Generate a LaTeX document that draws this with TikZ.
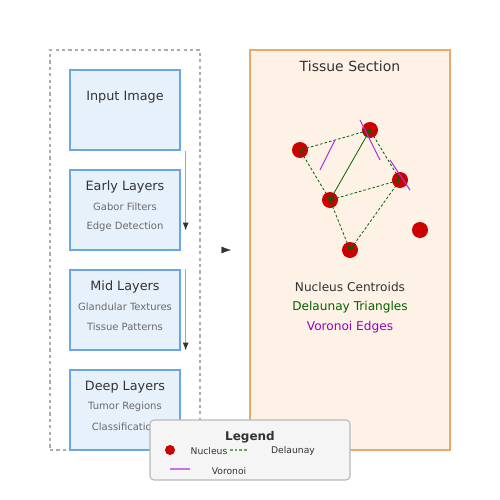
\documentclass[tikz,border=0pt]{standalone}
\usepackage{fontspec}
\setmainfont{DejaVu Sans}
\usepackage{xcolor}
\usetikzlibrary{positioning, arrows.meta, shapes}

\definecolor{layerfill}{HTML}{E6F1FC}
\definecolor{layerdraw}{HTML}{6AA6E4}
\definecolor{tissuefill}{HTML}{FEF1E5}
\definecolor{tissuedraw}{HTML}{E9A86C}
\definecolor{nucred}{HTML}{CC0000}
\definecolor{delgreen}{HTML}{006400}
\definecolor{vorpurple}{HTML}{9900CC}
\definecolor{textdark}{HTML}{333333}
\definecolor{textgray}{HTML}{6A6A6A}

\begin{document}
\begin{tikzpicture}[x=0.75pt, y=-0.75pt,
        layerbox/.style={draw=layerdraw, fill=layerfill, line width=1pt, minimum width=82.5pt, minimum height=60pt, inner sep=0pt},
        titletext/.style={text=textdark, font=\fontsize{9.6}{11}\selectfont, inner sep=0pt},
        subtext/.style={text=textgray, font=\fontsize{7.5}{9}\selectfont, inner sep=0pt},
        legtext/.style={text=textdark, font=\fontsize{6.9}{8}\selectfont, inner sep=0pt},
        flow/.style={draw=gray!70, line width=0.9pt, -{Latex[length=6pt, width=4.5pt, color=textdark]}},
        nucleus/.style={circle, fill=nucred, minimum size=12pt, inner sep=0pt},
        delaunay/.style={delgreen, line width=0.6pt, dash pattern=on 2pt off 1.5pt, {Stealth[length=2.5pt, width=2.5pt]}-{Stealth[length=2.5pt, width=2.5pt]}},
        voronoi/.style={vorpurple!80, line width=0.8pt}]
    \useasboundingbox (0,0) rectangle (500,500);

    % --- Network column ---
    \node[draw=gray!65, line width=0.9pt, dash pattern=on 2.4pt off 2.4pt, minimum width=112.5pt, minimum height=300pt, inner sep=0pt] (pipeline) at (125,250) {};

    \node[layerbox] (input) at (125,110) {};
    \node[titletext] (inputT) at (125,97) {Input Image};

    \node[layerbox] (early) at (125,210) {};
    \node[titletext] (earlyT) at (125,187) {Early Layers};
    \node[subtext] (earlyA) at (125,207) {Gabor Filters};
    \node[subtext] (earlyB) at (125,227) {Edge Detection};

    \node[layerbox] (mid) at (125,310) {};
    \node[titletext] (midT) at (125,287) {Mid Layers};
    \node[subtext] (midA) at (125,307) {Glandular Textures};
    \node[subtext] (midB) at (125,327) {Tissue Patterns};

    \node[layerbox] (deep) at (125,410) {};
    \node[titletext] (deepT) at (125,387) {Deep Layers};
    \node[subtext] (deepA) at (125,407) {Tumor Regions};
    \node[subtext] (deepB) at (125,427) {Classification};

    % Flow arrows
    \draw[flow] ([xshift=3.75pt]input.south east) -- ([xshift=3.75pt, yshift=15pt]early.south east);
    \draw[flow] ([xshift=3.75pt]mid.north east) -- ([xshift=3.75pt]mid.south east);
    \coordinate (gap) at (231,250);
    \draw[textdark, line width=0.1pt, -{Latex[length=7pt, width=5pt]}] (224,250) -- (gap);

    % --- Tissue section ---
    \node[draw=tissuedraw, fill=tissuefill, line width=1pt, minimum width=150pt, minimum height=300pt, inner sep=0pt] (tissue) at (350,250) {};
    \node[titletext, font=\fontsize{10.5}{12}\selectfont] (tissueT) at (350,66) {Tissue Section};

    \node[nucleus] (n1) at (300,150) {};
    \node[nucleus] (n2) at (370,130) {};
    \node[nucleus] (n3) at (400,180) {};
    \node[nucleus] (n4) at (330,200) {};
    \node[nucleus] (n5) at (350,250) {};
    \node[nucleus] (n6) at (420,230) {};

    % Delaunay edges
    \foreach \a/\b in {n1/n2, n1/n4, n2/n3, n4/n3, n4/n5, n5/n3}
        \draw[delaunay] (\a.center) -- (\b.center);
    \draw[delaunay, solid] (n4.center) -- (n2.center);

    % Voronoi edges
    \draw[voronoi] (335,140) -- (320,170);
    \draw[voronoi] (360,120) -- (380,160);
    \draw[voronoi] (390,160) -- (410,190);

    \node[titletext, font=\fontsize{9.1}{10}\selectfont] (capA) at (350,287) {Nucleus Centroids};
    \node[titletext, font=\fontsize{9.1}{10}\selectfont, text=delgreen] (capB) at (350,307) {Delaunay Triangles};
    \node[titletext, font=\fontsize{9.1}{10}\selectfont, text=vorpurple] (capC) at (350,327) {Voronoi Edges};

    % --- Legend ---
    \node[draw=gray!55, fill=gray!8, rounded corners=3pt, line width=0.8pt, minimum width=150pt, minimum height=45pt, inner sep=0pt] (legend) at (250,450) {};
    \node[titletext, font=\bfseries\fontsize{9}{10}\selectfont] (legT) at (250,437) {Legend};
    \node[circle, fill=nucred, minimum size=7.5pt, inner sep=0pt] (legN) at (170,450) {};
    \node[legtext] (legNT) at (209,451) {Nucleus};
    \coordinate (dA) at (230,450);
    \coordinate (dB) at (248,450);
    \draw[delgreen!60, line width=1pt, dash pattern=on 2pt off 1.5pt] (dA) -- (dB);
    \node[legtext] (legDT) at (293,451) {Delaunay};
    \coordinate (vA) at (170,469);
    \coordinate (vB) at (190,469);
    \draw[vorpurple!55, line width=1pt] (vA) -- (vB);
    \node[legtext] (legVT) at (229,471) {Voronoi};
\end{tikzpicture}
\end{document}
